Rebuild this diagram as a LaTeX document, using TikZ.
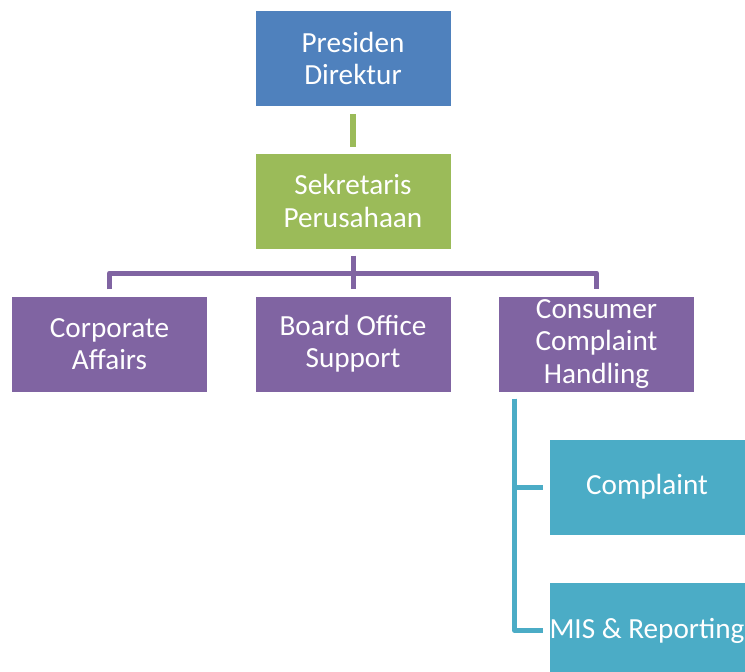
\documentclass[tikz,border=0pt]{standalone}
\usepackage{fontspec}
\setmainfont{Carlito}
\usetikzlibrary{calc, positioning}
\definecolor{orgBlue}{HTML}{4F81BD}
\definecolor{orgGreen}{HTML}{9BBB59}
\definecolor{orgPurple}{HTML}{8064A2}
\definecolor{orgTeal}{HTML}{4BACC6}
\tikzset{
    orgBox/.style={rectangle, minimum width=195pt, minimum height=95pt, inner sep=0pt, align=center, text=white, font=\fontsize{29.2}{32.4}\selectfont},
    boxBlue/.style={orgBox, fill=orgBlue},
    boxGreen/.style={orgBox, fill=orgGreen},
    boxPurple/.style={orgBox, fill=orgPurple},
    boxTeal/.style={orgBox, fill=orgTeal},
    linkGreen/.style={draw=orgGreen, line width=6pt},
    linkPurple/.style={draw=orgPurple, line width=5pt, line join=round},
    linkTeal/.style={draw=orgTeal, line width=5pt, line join=round},
}
\begin{document}
\begin{tikzpicture}[x=1pt, y=-1pt]
        \useasboundingbox (0,0) rectangle (745,672);

        \node[boxBlue] (pd) at (353, 58.5) {Presiden\\Direktur};
        \node[boxGreen] (ss) at (353, 201) {Sekretaris\\Perusahaan};
        \node[boxPurple] (ca) at (109.5, 344) {Corporate\\Affairs};
        \node[boxPurple] (bos) at (353, 344) {Board Office\\Support};
        \node[boxPurple] (cch) at (596.5, 344) {Consumer\\Complaint\\Handling};
        \node[boxTeal] (cp) at (647, 487) {Complaint};
        \node[boxTeal] (mis) at (647, 630.5) {MIS \& Reporting};

        \coordinate (bar) at (353, 273);

        \draw[linkGreen] ([yshift=-8pt]pd.south) -- ([yshift=6pt]ss.north);
        \draw[linkPurple] ([yshift=-7pt]ss.south) -- (bar);
        \draw[linkPurple] ([yshift=7pt]ca.north) |- (bar) -| ([yshift=7pt]cch.north);
        \draw[linkPurple] (bar) -- ([yshift=7pt]bos.north);
        \draw[linkTeal] ([xshift=16pt, yshift=-7pt]cch.south west) |- ([xshift=-6pt]mis.west);
        \draw[linkTeal] ([xshift=16pt, yshift=-7pt]cch.south west) |- ([xshift=-6pt]cp.west);

    \end{tikzpicture}
\end{document}
